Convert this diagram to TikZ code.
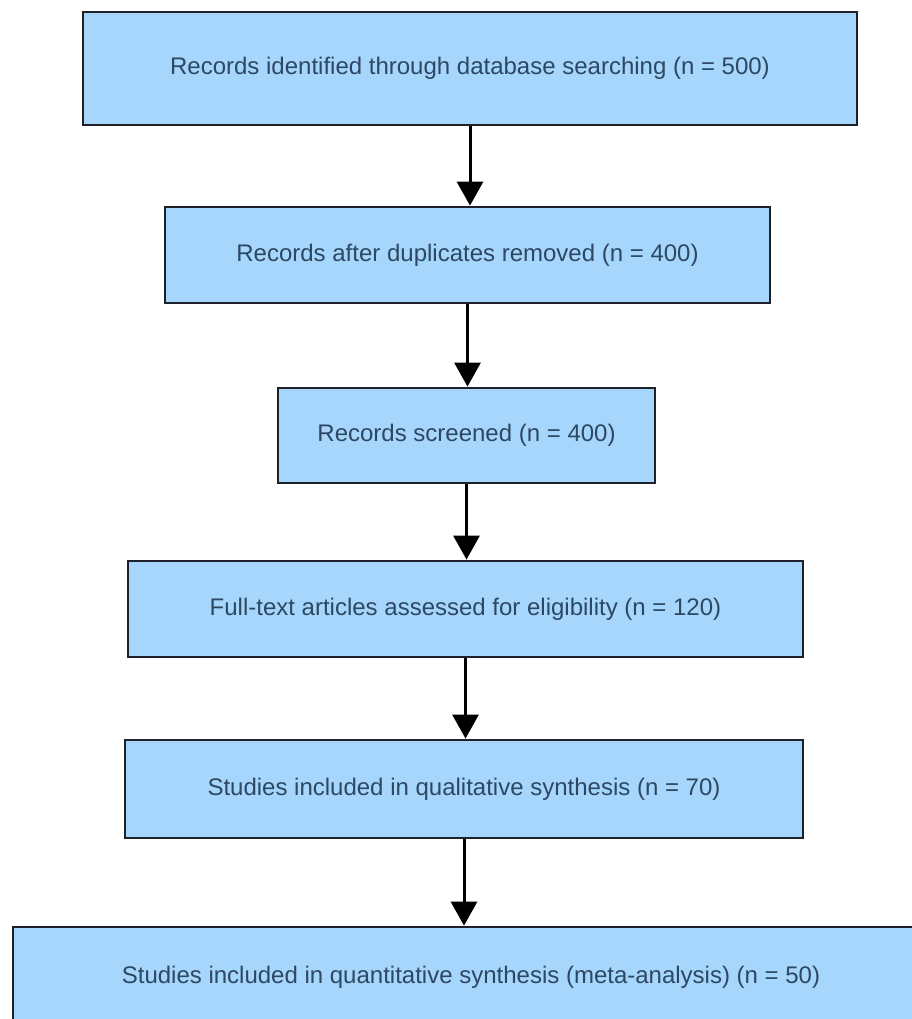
\documentclass[tikz,border=0pt]{standalone}
\usepackage{fontspec}
\setmainfont{Liberation Sans}
\usepackage{tikz}
\usetikzlibrary{arrows.meta}
\definecolor{boxfill}{RGB}{166,214,252}
\definecolor{boxline}{RGB}{30,34,40}
\definecolor{boxtext}{RGB}{45,72,98}
\tikzset{
  stage/.style={draw=boxline, line width=2.8pt, fill=boxfill, text=boxtext,
    font=\fontsize{24}{28}\selectfont, inner sep=0pt},
  flow/.style={line width=3pt, -{Triangle[width=26pt,length=24pt]}}
}
\newcommand{\stagebox}[6]{\node[stage, minimum width=#3pt, minimum height=#4pt] (#1) at (#5,#6) {#2};}

\begin{document}
\begin{tikzpicture}[x=1pt, y=-1pt]
        \useasboundingbox (0,0) rectangle (912,1019);
        \fill[white] (0,0) rectangle (912,1019);
        % boxes
        \stagebox{ident}{Records identified through database searching (n = 500)}{774}{113}{470}{68.5}
        \stagebox{dedup}{Records after duplicates removed (n = 400)}{605}{96}{467.5}{255}
        \stagebox{screen}{Records screened (n = 400)}{377}{95}{466.5}{435.5}
        \stagebox{fulltext}{Full-text articles assessed for eligibility (n = 120)}{675}{96}{465.5}{609}
        \stagebox{qual}{Studies included in qualitative synthesis (n = 70)}{678}{98}{464}{789}
        \stagebox{quant}{Studies included in quantitative synthesis (meta-analysis) (n = 50)}{916}{100}{471}{977}
        % arrows
        \draw[flow] (ident.south) -- (ident.south |- dedup.north);
        \draw[flow] (dedup.south) -- (dedup.south |- screen.north);
        \draw[flow] (screen.south) -- (screen.south |- fulltext.north);
        \draw[flow] (fulltext.south) -- (fulltext.south |- qual.north);
        \draw[flow] (qual.south) -- (qual.south |- quant.north);
    \end{tikzpicture}
\end{document}
